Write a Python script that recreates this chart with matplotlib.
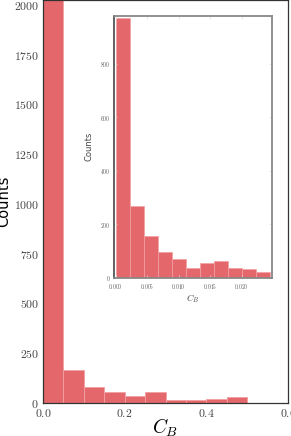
import numpy as np
import matplotlib
matplotlib.use("Agg")
import matplotlib.pyplot as plt
from matplotlib.ticker import FormatStrFormatter

plt.rcParams['mathtext.fontset'] = 'cm'

# Main histogram (bins of width 0.05 from 0 to 0.6)
main_edges = [0.0, 0.05, 0.10, 0.15, 0.20, 0.25, 0.30, 0.35, 0.40, 0.45, 0.50, 0.55, 0.60]
main_counts = [2400, 166, 79, 54, 34, 55, 13, 13, 22, 30, 0, 2]

# Inset histogram (11 bins from 0 to ~0.0245)
inset_edges = list(np.linspace(0.0, 0.0245, 12))
inset_counts = [971, 269, 157, 97, 71, 36, 56, 61, 37, 34, 21]

main_xticks = [0.0, 0.2, 0.4, 0.6]
main_yticks = [0, 250, 500, 750, 1000, 1250, 1500, 1750, 2000]
inset_xticks = [0.000, 0.005, 0.010, 0.015, 0.020]
inset_yticks = [0, 200, 400, 600, 800]

bar_color = '#e3676b'
edge_color = '#f2a0a2'

fig = plt.figure(figsize=(2.91, 4.36), dpi=100)

ax = fig.add_axes([0.1478, 0.0757, 0.8419, 0.9243])
ax.hist(main_edges[:-1], bins=main_edges, weights=main_counts,
        color=bar_color, edgecolor=edge_color, linewidth=0.6)
ax.set_xlim(0, 0.6)
ax.set_ylim(0, 2025)
ax.set_xticks(main_xticks)
ax.set_yticks(main_yticks)
ax.xaxis.set_major_formatter(FormatStrFormatter('$%.1f$'))
ax.yaxis.set_major_formatter(FormatStrFormatter('$%d$'))
ax.tick_params(length=0, labelsize=8.5, labelcolor='#444444', pad=3)
for s in ax.spines.values():
    s.set_color('#333333')
    s.set_linewidth(0.9)
ax.set_ylabel('Counts', fontsize=10.5, labelpad=2, family='DejaVu Sans')
ax.set_xlabel('$C_B$', fontsize=14, labelpad=-2.6)

ins = fig.add_axes([0.3928, 0.3631, 0.5409, 0.6009])
ins.hist(inset_edges[:-1], bins=inset_edges, weights=inset_counts,
         color=bar_color, edgecolor=edge_color, linewidth=0.5)
ins.set_xlim(-0.00022, 0.02476)
ins.set_ylim(0, 980)
ins.set_xticks(inset_xticks)
ins.set_yticks(inset_yticks)
ins.xaxis.set_major_formatter(FormatStrFormatter('$%.3f$'))
ins.yaxis.set_major_formatter(FormatStrFormatter('$%d$'))
ins.tick_params(length=2, width=0.5, color='#dddddd', direction='in',
                labelsize=4, labelcolor='#555555', pad=2.8,
                top=True, right=True)
ins.tick_params(axis='y', pad=3)
for s in ins.spines.values():
    s.set_color('#888888')
    s.set_linewidth(1.3)
ins.spines['left'].set_color('#555555')
ins.set_ylabel('Counts', fontsize=6, labelpad=5, family='DejaVu Sans', color='#444444')
ins.set_xlabel('$C_B$', fontsize=6.5, labelpad=1.5, color='#444444')

fig.savefig('out.png', dpi=100)
